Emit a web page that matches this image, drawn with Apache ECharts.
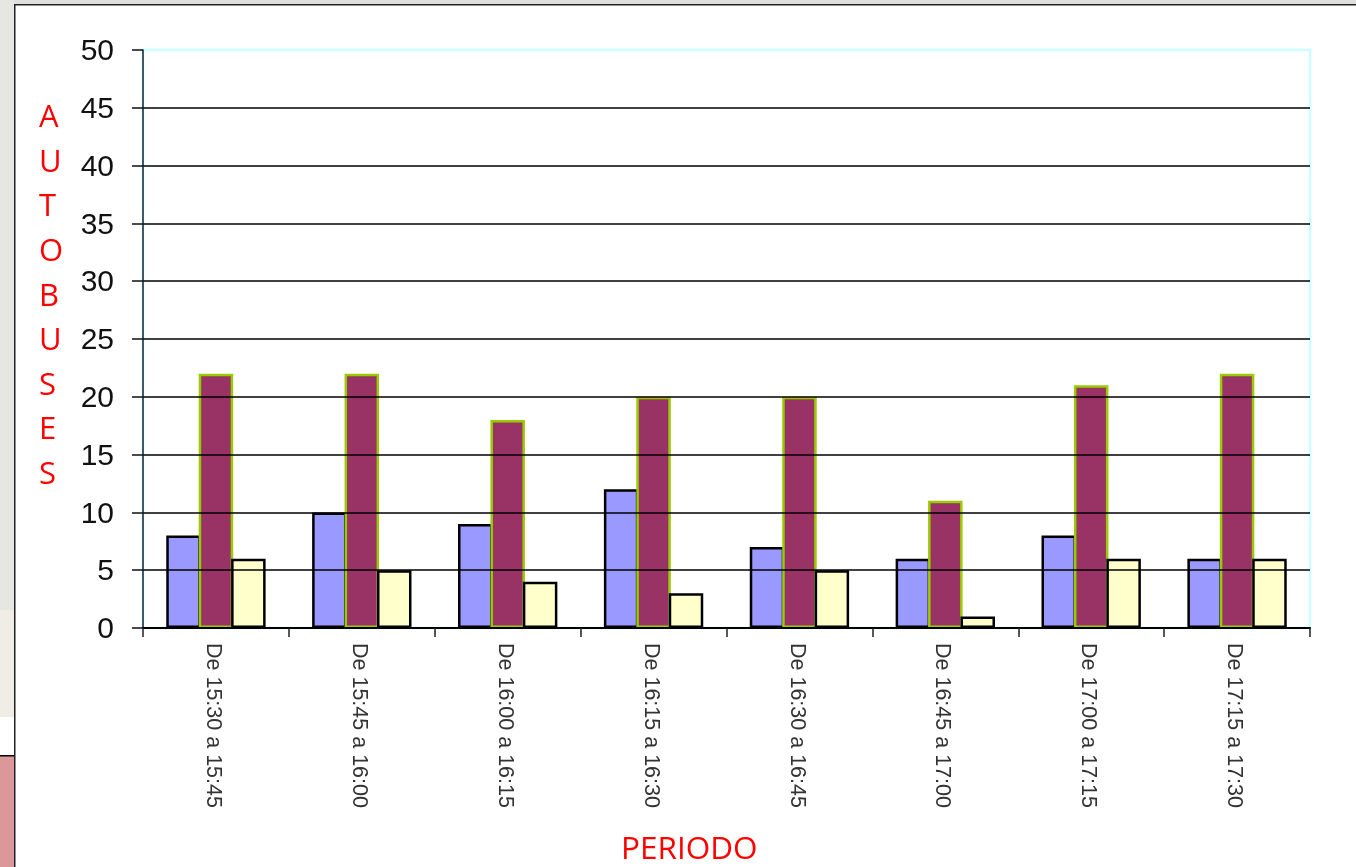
<!DOCTYPE html>
<html><head><meta charset="utf-8">
<style>html,body{margin:0;padding:0;background:#fff;overflow:hidden}#c{width:1356px;height:867px}</style>
<script src="https://cdn.jsdelivr.net/npm/echarts@6/dist/echarts.min.js"></script>
</head><body><div id="c"></div>
<script>
const categories = ['De 15:30 a 15:45','De 15:45 a 16:00','De 16:00 a 16:15','De 16:15 a 16:30','De 16:30 a 16:45','De 16:45 a 17:00','De 17:00 a 17:15','De 17:15 a 17:30'];
const serie1 = [8,10,9,12,7,6,8,6];
const serie2 = [22,22,18,20,20,11,21,22];
const serie3 = [6,5,4,3,5,1,6,6];
const yTitle = 'AUTOBUSES';
const xTitle = 'PERIODO';
const chart = echarts.init(document.getElementById('c'));
const bar = (name,data,color,border)=>({name,type:'bar',data,barWidth:34.5,barGap:'-6%',
  itemStyle:{color,borderColor:border,borderWidth:2.5}});
const gridColors = ['#000','#000','#000','#000','#000','#000','#000','#000','#000','#000','rgba(0,0,0,0)'];
chart.setOption({
  animation:false,
  backgroundColor:'#fff',
  grid:{left:143,top:50,width:1167,height:578,show:true,borderColor:'#ccffff',borderWidth:2.5,backgroundColor:'#fff'},
  title:[
    {text:xTitle,left:621,top:834,padding:0,textStyle:{color:'#ff0000',fontFamily:'Open Sans',fontSize:31.5,fontWeight:'normal'}},
    {text:yTitle.split('').join('\n'),left:39,top:96,padding:0,textAlign:'left',
     textStyle:{color:'#ff0000',fontFamily:'Open Sans',fontSize:31,fontWeight:'normal',lineHeight:44.6,align:'center',width:22}}
  ],
  xAxis:{type:'category',data:categories,
    axisLine:{onZero:true,lineStyle:{color:'#000',width:2}},
    axisTick:{show:true,length:9,lineStyle:{color:'#222',width:1.5}},
    axisLabel:{rotate:-90,interval:0,margin:15,color:'#333',fontFamily:'Liberation Sans',fontSize:21.5,verticalAlign:'top',lineHeight:6},
    z:5},
  yAxis:{type:'value',min:0,max:50,interval:5,
    axisLine:{show:true,lineStyle:{color:'#123',width:1.5}},
    axisTick:{show:true,length:11,lineStyle:{color:'#111',width:1.5}},
    axisLabel:{margin:29,color:'#111',fontFamily:'Liberation Sans',fontSize:30,verticalAlign:'top',lineHeight:4},
    splitLine:{show:true,lineStyle:{color:gridColors,width:1.5}},
    z:5},
  series:[
    bar('Serie 1',serie1,'#9999ff','#000'),
    bar('Serie 2',serie2,'#993366','#99cc00'),
    bar('Serie 3',serie3,'#ffffcc','#000')
  ],
  graphic:[
    {type:'rect',silent:true,z:-1,shape:{x:0,y:0,width:1356,height:4},style:{fill:'#dfdfdd'}},
    {type:'rect',silent:true,z:-1,shape:{x:0,y:0,width:14,height:610},style:{fill:'#e6e6e3'}},
    {type:'rect',silent:true,z:-1,shape:{x:0,y:610,width:14,height:107},style:{fill:'#efede6'}},
    {type:'rect',silent:true,z:-1,shape:{x:0,y:717,width:14,height:38},style:{fill:'#ffffff'}},
    {type:'rect',silent:true,z:-1,shape:{x:0,y:755,width:14,height:112},style:{fill:'#dc9898'}},
    {type:'rect',silent:true,z:-1,shape:{x:0,y:755,width:14,height:1.5},style:{fill:'#000'}},
    {type:'rect',silent:true,z:-1,shape:{x:14,y:4,width:1342,height:1.5},style:{fill:'#222'}},
    {type:'rect',silent:true,z:-1,shape:{x:14,y:4,width:1.5,height:863},style:{fill:'#222'}}
  ]
});
</script></body></html>
